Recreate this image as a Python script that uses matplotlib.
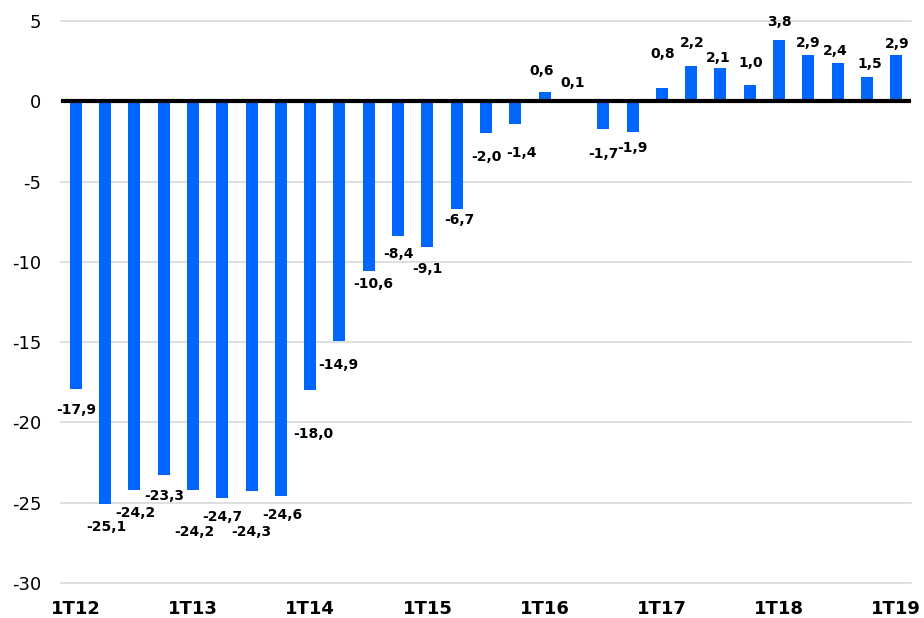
import matplotlib
matplotlib.use("Agg")
import matplotlib.pyplot as plt

values = [-17.9, -25.1, -24.2, -23.3, -24.2, -24.7, -24.3, -24.6, -18.0, -14.9,
          -10.6, -8.4, -9.1, -6.7, -2.0, -1.4, 0.6, 0.1, -1.7, -1.9,
          0.8, 2.2, 2.1, 1.0, 3.8, 2.9, 2.4, 1.5, 2.9]
tick_labels = ["1T12", "1T13", "1T14", "1T15", "1T16", "1T17", "1T18", "1T19"]
y_ticks = [5, 0, -5, -10, -15, -20, -25, -30]

# label offsets in pixels (dx, gap from bar end)
label_dx = [1, 1, 1, 1, 1, 0, 0, 1, 3, -1, 4, 0, 0, 3, 0, 6, -3, -1, 0, 0,
            1, 1, -2, 1, 0, 0, -2, 3, 1]
label_gap = [21, 23, 23, 21, 42, 19, 41, 19, 44, 24, 13, 18, 22, 11, 24, 29,
             21, 17, 25, 16, 34, 23, 10, 22, 18, 12, 12, 13, 11]

fig = plt.figure(figsize=(9.24, 6.18), dpi=100)
ax = fig.add_axes([61/924, 1-583/618, (911-61)/924, (583-21)/618])

x = list(range(len(values)))
ax.bar(x, values, width=0.41, color="#0066ff", zorder=2)
ax.axhline(0, color="black", lw=3, zorder=3)

for xi, v, dx, g in zip(x, values, label_dx, label_gap):
    dy = g if v >= 0 else -g
    ax.annotate(f"{v:.1f}".replace(".", ","), (xi, v), xytext=(dx, dy),
                textcoords="offset pixels", ha="center", va="center",
                fontsize=10, fontweight="bold", color="black", zorder=4)

ax.set_xlim(-0.5, len(values) - 0.5)
ax.set_ylim(-30, 5)
ax.set_yticks(y_ticks)
ax.set_yticklabels([str(t) for t in y_ticks], fontsize=13)
ax.set_xticks(list(range(0, len(values), 4)))
ax.set_xticklabels(tick_labels, fontsize=13, fontweight="bold")
ax.tick_params(length=0)
ax.tick_params(axis="y", pad=14)
ax.tick_params(axis="x", pad=12)
ax.grid(axis="y", color="#d9d9d9", lw=1.2, zorder=0)
for gl in ax.yaxis.get_gridlines():
    gl.set_clip_on(False)
ax.set_axisbelow(True)
for s in ax.spines.values():
    s.set_visible(False)

fig.savefig("out.png", dpi=100)
